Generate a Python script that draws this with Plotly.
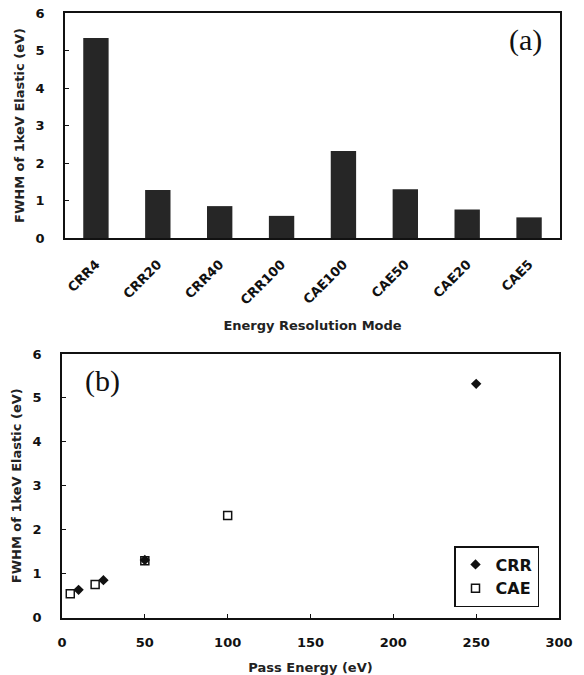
import plotly.graph_objects as go
from plotly.subplots import make_subplots

# Panel (a) data
modes = ["CRR4", "CRR20", "CRR40", "CRR100", "CAE100", "CAE50", "CAE20", "CAE5"]
fwhm_modes = [5.33, 1.28, 0.85, 0.59, 2.32, 1.30, 0.76, 0.55]

# Panel (b) data
crr_pass = [250, 50, 25, 10]
crr_fwhm = [5.32, 1.31, 0.85, 0.63]
cae_pass = [100, 50, 20, 5]
cae_fwhm = [2.32, 1.29, 0.75, 0.54]

W, H = 584, 675
FONT = "DejaVu Sans"

fig = make_subplots(rows=2, cols=1)

fig.add_trace(go.Bar(x=modes, y=fwhm_modes, marker=dict(color="#262626", line=dict(width=0)),
                     width=0.41, showlegend=False), row=1, col=1)

fig.add_trace(go.Scatter(x=crr_pass, y=crr_fwhm, mode="markers", name="CRR",
                         marker=dict(symbol="diamond", size=8, color="#111")), row=2, col=1)
fig.add_trace(go.Scatter(x=cae_pass, y=cae_fwhm, mode="markers", name="CAE",
                         marker=dict(symbol="square-open", size=8, color="#111",
                                     line=dict(width=1.5))), row=2, col=1)

def px_x(p):
    return p / W

def px_y(p):
    return 1 - p / H

TICKFONT = dict(family=FONT, size=13, color="#111", weight="bold")
TITLEFONT = dict(family=FONT, size=13, color="#222", weight="bold")

axis_common = dict(showline=True, mirror=True, linecolor="#111", linewidth=1.5,
                   showgrid=False, zeroline=False, automargin=False,
                   tickfont=TICKFONT)

fig.update_layout(
    width=W, height=H, margin=dict(l=0, r=0, t=0, b=0),
    plot_bgcolor="white", paper_bgcolor="white",
    font=dict(family=FONT, color="#111"),
    xaxis=dict(domain=[px_x(65), px_x(560)], range=[-0.5, 7.5], tickangle=-45,
               ticks="", ticklabelstandoff=12,
               title=dict(text="Energy Resolution Mode", standoff=14, font=TITLEFONT),
               **axis_common),
    yaxis=dict(domain=[px_y(238), px_y(13)], range=[0, 6], dtick=1,
               ticks="inside", ticklen=4, tickcolor="#111", ticklabelstandoff=16,
               title=dict(text="FWHM of 1keV Elastic (eV)", standoff=8, font=TITLEFONT),
               **axis_common),
    xaxis2=dict(domain=[px_x(62), px_x(559)], range=[0, 300], dtick=50,
                ticks="inside", ticklen=4, tickcolor="#111", ticklabelstandoff=12,
                title=dict(text="Pass Energy (eV)", standoff=14, font=TITLEFONT),
                **axis_common),
    yaxis2=dict(domain=[px_y(617.5), px_y(354)], range=[0, 6], dtick=1,
                ticks="inside", ticklen=4, tickcolor="#111", ticklabelstandoff=16,
                title=dict(text="FWHM of 1keV Elastic (eV)", standoff=8, font=TITLEFONT),
                **axis_common),
    legend=dict(x=px_x(539), y=px_y(546), xanchor="right", yanchor="top",
                bordercolor="#111", borderwidth=1.5, bgcolor="white",
                font=dict(family=FONT, size=16, weight="bold"),
                itemwidth=30, tracegroupgap=0),
    showlegend=True,
)

fig.add_annotation(x=px_x(525), y=px_y(40), xref="paper", yref="paper", text="(a)",
                   xanchor="center", yanchor="middle", showarrow=False,
                   font=dict(family="Liberation Serif", size=30, color="#111"))
fig.add_annotation(x=px_x(102), y=px_y(381), xref="paper", yref="paper", text="(b)",
                   xanchor="center", yanchor="middle", showarrow=False,
                   font=dict(family="Liberation Serif", size=30, color="#111"))

fig.write_html("out.html")
